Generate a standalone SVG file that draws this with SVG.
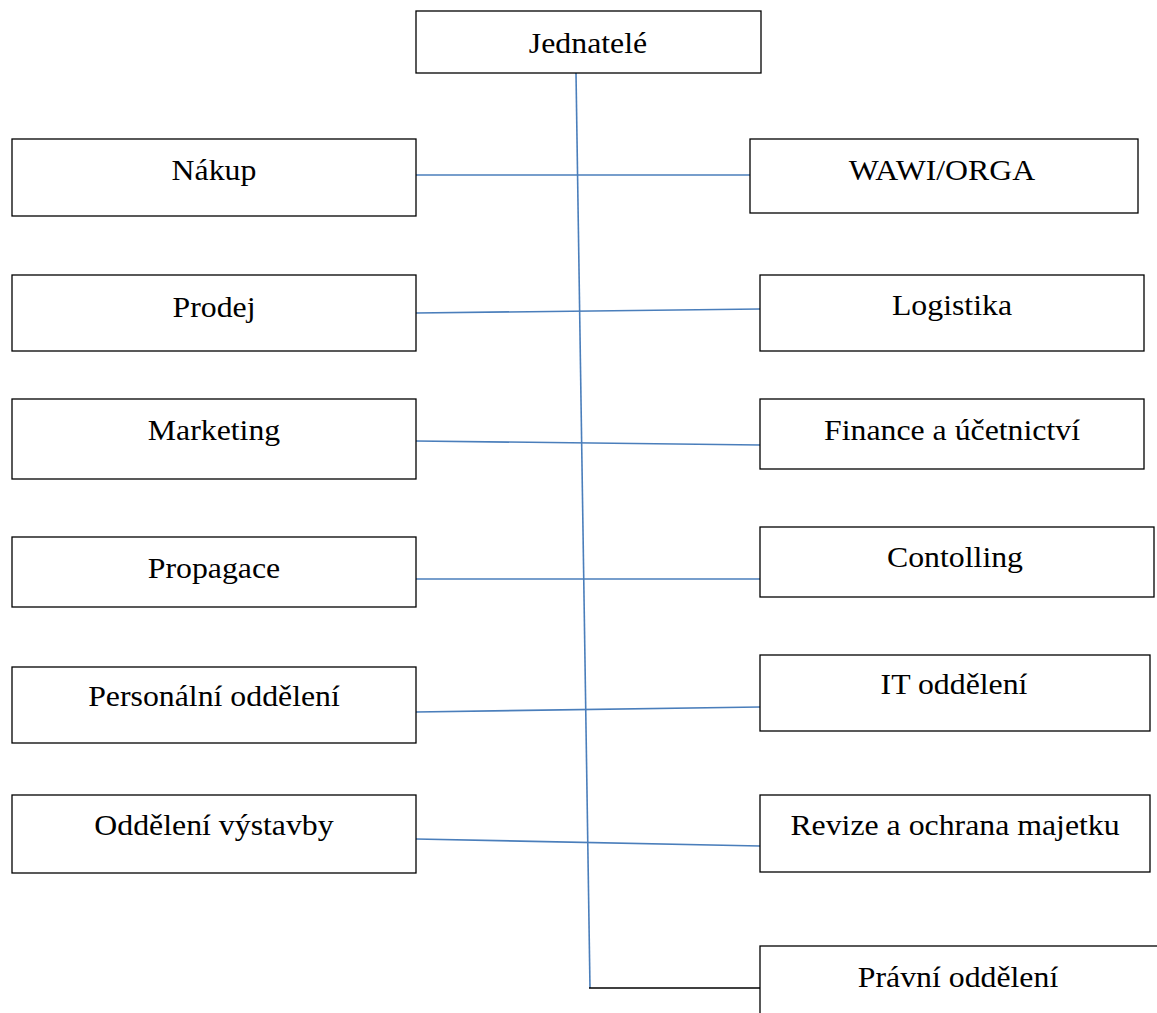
<svg xmlns="http://www.w3.org/2000/svg" width="1157" height="1013" viewBox="0 0 1157 1013">
<style>
.box{fill:#fff;stroke:#000;stroke-width:1.3}
.t{font-family:"Liberation Serif","Times New Roman",serif;font-size:30px;fill:#000;text-anchor:middle}
.c{stroke:#4a7ebb;stroke-width:1.6;fill:none}
</style>
<rect width="1157" height="1013" fill="#fff"/>
<g id="connectors">
<line class="c" x1="576" y1="73" x2="590" y2="988"/>
<line class="c" x1="416" y1="175" x2="750" y2="175"/>
<line class="c" x1="416" y1="313" x2="760" y2="309"/>
<line class="c" x1="416" y1="441" x2="760" y2="445"/>
<line class="c" x1="416" y1="579" x2="760" y2="579"/>
<line class="c" x1="416" y1="712" x2="760" y2="707"/>
<line class="c" x1="416" y1="839" x2="760" y2="846"/>
<line x1="589" y1="988" x2="760" y2="988" stroke="#000" stroke-width="1.6"/>
</g>
<g id="jednatele"><rect class="box" x="416" y="11" width="345" height="62"/><text class="t" transform="translate(588,53) scale(1.06,1)">Jednatelé</text></g>
<g id="nakup"><rect class="box" x="12" y="139" width="404" height="77"/><text class="t" transform="translate(214,180) scale(1.06,1)">Nákup</text></g>
<g id="wawi"><rect class="box" x="750" y="139" width="388" height="74"/><text class="t" transform="translate(942,180) scale(1.06,1)">WAWI/ORGA</text></g>
<g id="prodej"><rect class="box" x="12" y="275" width="404" height="76"/><text class="t" transform="translate(214,317) scale(1.06,1)">Prodej</text></g>
<g id="logistika"><rect class="box" x="760" y="275" width="384" height="76"/><text class="t" transform="translate(952,315) scale(1.06,1)">Logistika</text></g>
<g id="marketing"><rect class="box" x="12" y="399" width="404" height="80"/><text class="t" transform="translate(214,440) scale(1.06,1)">Marketing</text></g>
<g id="finance"><rect class="box" x="760" y="399" width="384" height="70"/><text class="t" transform="translate(952,440) scale(1.06,1)">Finance a účetnictví</text></g>
<g id="propagace"><rect class="box" x="12" y="537" width="404" height="70"/><text class="t" transform="translate(214,578) scale(1.06,1)">Propagace</text></g>
<g id="contolling"><rect class="box" x="760" y="527" width="394" height="70"/><text class="t" transform="translate(955,567) scale(1.06,1)">Contolling</text></g>
<g id="personalni"><rect class="box" x="12" y="667" width="404" height="76"/><text class="t" transform="translate(214,706) scale(1.06,1)">Personální oddělení</text></g>
<g id="it"><rect class="box" x="760" y="655" width="390" height="76"/><text class="t" transform="translate(954,694) scale(1.06,1)">IT oddělení</text></g>
<g id="vystavba"><rect class="box" x="12" y="795" width="404" height="78"/><text class="t" transform="translate(214,835) scale(1.06,1)">Oddělení výstavby</text></g>
<g id="revize"><rect class="box" x="760" y="795" width="390" height="77"/><text class="t" transform="translate(955,835) scale(1.06,1)">Revize a ochrana majetku</text></g>
<g id="pravni"><rect class="box" x="760" y="946" width="420" height="90"/><text class="t" transform="translate(958,987) scale(1.06,1)">Právní oddělení</text></g>
</svg>
